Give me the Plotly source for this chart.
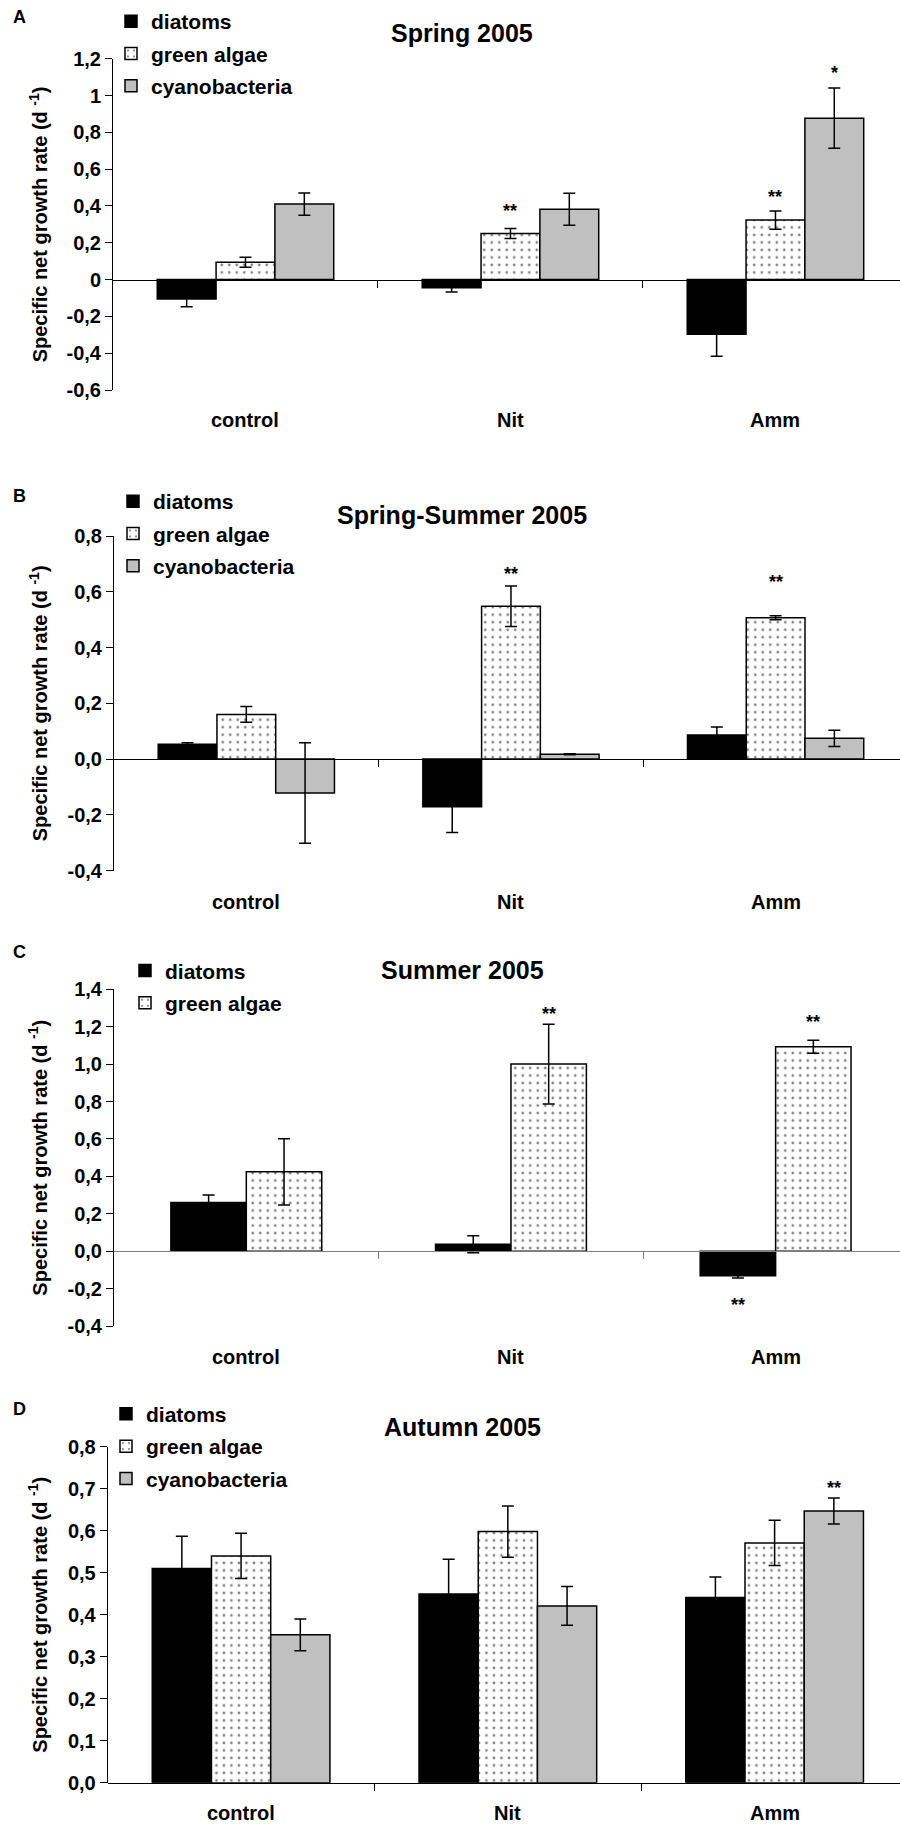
import plotly.graph_objects as go

W, H = 900, 1824
FONT = "Liberation Sans, Arial, sans-serif"

categories = ["control", "Nit", "Amm"]

# ---- Panel A: Spring 2005 ----
a_diatoms = [-0.105, -0.045, -0.297]
a_diatoms_err = [0.043, 0.023, 0.12]
a_green = [0.094, 0.25, 0.323]
a_green_err = [0.027, 0.027, 0.05]
a_cyano = [0.41, 0.382, 0.877]
a_cyano_err = [0.06, 0.087, 0.164]
a_ticks = [-0.6, -0.4, -0.2, 0, 0.2, 0.4, 0.6, 0.8, 1.0, 1.2]
a_ticktext = ["-0,6", "-0,4", "-0,2", "0", "0,2", "0,4", "0,6", "0,8", "1", "1,2"]
a_stars = [("green algae", "Nit", "**", 0.40), ("green algae", "Amm", "**", 0.476),
           ("cyanobacteria", "Amm", "*", 1.151)]

# ---- Panel B: Spring-Summer 2005 ----
b_diatoms = [0.053, -0.171, 0.086]
b_diatoms_err = [0.005, 0.093, 0.029]
b_green = [0.16, 0.548, 0.507]
b_green_err = [0.028, 0.073, 0.007]
b_cyano = [-0.122, 0.017, 0.074]
b_cyano_err = [0.18, 0.002, 0.029]
b_ticks = [-0.4, -0.2, 0, 0.2, 0.4, 0.6, 0.8]
b_ticktext = ["-0,4", "-0,2", "0,0", "0,2", "0,4", "0,6", "0,8"]
b_stars = [("green algae", "Nit", "**", 0.683), ("green algae", "Amm", "**", 0.654)]

# ---- Panel C: Summer 2005 ----
c_diatoms = [0.26, 0.037, -0.132]
c_diatoms_err = [0.04, 0.045, 0.011]
c_green = [0.424, 1.0, 1.093]
c_green_err = [0.177, 0.213, 0.035]
c_ticks = [-0.4, -0.2, 0, 0.2, 0.4, 0.6, 0.8, 1.0, 1.2, 1.4]
c_ticktext = ["-0,4", "-0,2", "0,0", "0,2", "0,4", "0,6", "0,8", "1,0", "1,2", "1,4"]
c_stars = [("green algae", "Nit", "**", 1.293), ("green algae", "Amm", "**", 1.25),
           ("diatoms", "Amm", "**", -0.262)]

# ---- Panel D: Autumn 2005 ----
d_diatoms = [0.51, 0.449, 0.441]
d_diatoms_err = [0.077, 0.083, 0.049]
d_green = [0.54, 0.598, 0.571]
d_green_err = [0.054, 0.061, 0.054]
d_cyano = [0.352, 0.421, 0.647]
d_cyano_err = [0.038, 0.046, 0.031]
d_ticks = [0, 0.1, 0.2, 0.3, 0.4, 0.5, 0.6, 0.7, 0.8]
d_ticktext = ["0,0", "0,1", "0,2", "0,3", "0,4", "0,5", "0,6", "0,7", "0,8"]
d_stars = [("cyanobacteria", "Amm", "**", 0.713)]

STYLE = {
    "diatoms": dict(color="black", line=dict(color="black", width=1.5)),
    "green algae": dict(color="white", line=dict(color="black", width=1.5),
                        pattern=dict(shape=".", fgcolor="black", bgcolor="white",
                                     size=7.5, solidity=0.1)),
    "cyanobacteria": dict(color="#C0C0C0", line=dict(color="black", width=1.5)),
}

panels = [
    dict(letter="A", title="Spring 2005",
         series=[("diatoms", a_diatoms, a_diatoms_err), ("green algae", a_green, a_green_err),
                 ("cyanobacteria", a_cyano, a_cyano_err)],
         yrange=[-0.6, 1.2], ticks=a_ticks, ticktext=a_ticktext, stars=a_stars,
         top=58.7, bottom=390, axis_x=113, title_y=33, letter_y=17,
         leg_x=153, leg_y=19, cat_y=420, barw=0.222, zc="black"),
    dict(letter="B", title="Spring-Summer 2005",
         series=[("diatoms", b_diatoms, b_diatoms_err), ("green algae", b_green, b_green_err),
                 ("cyanobacteria", b_cyano, b_cyano_err)],
         yrange=[-0.4, 0.8], ticks=b_ticks, ticktext=b_ticktext, stars=b_stars,
         top=536, bottom=870.5, axis_x=114, title_y=515, letter_y=496,
         leg_x=155, leg_y=499, cat_y=902, barw=0.222, zc="black"),
    dict(letter="C", title="Summer 2005",
         series=[("diatoms", c_diatoms, c_diatoms_err), ("green algae", c_green, c_green_err)],
         yrange=[-0.4, 1.4], ticks=c_ticks, ticktext=c_ticktext, stars=c_stars,
         top=989.3, bottom=1326, axis_x=114, title_y=970, letter_y=952,
         leg_x=167, leg_y=968.3, cat_y=1356.7, barw=0.285, zc="#808080"),
    dict(letter="D", title="Autumn 2005",
         series=[("diatoms", d_diatoms, d_diatoms_err), ("green algae", d_green, d_green_err),
                 ("cyanobacteria", d_cyano, d_cyano_err)],
         yrange=[0, 0.8], ticks=d_ticks, ticktext=d_ticktext, stars=d_stars,
         top=1446.7, bottom=1782.7, axis_x=107.7, title_y=1426.7, letter_y=1409,
         leg_x=148, leg_y=1411.7, cat_y=1813, barw=0.222, zc="black"),
]

fig = go.Figure()
layout = dict(width=W, height=H, margin=dict(l=0, r=0, t=0, b=0, autoexpand=False),
              paper_bgcolor="white", plot_bgcolor="white", barmode="overlay",
              font=dict(family=FONT, color="black"), annotations=[])
xpos = list(range(len(categories)))

def py(px):
    return 1 - px / H

for i, p in enumerate(panels, start=1):
    xa = "x" if i == 1 else f"x{i}"
    ya = "y" if i == 1 else f"y{i}"
    leg = "legend" if i == 1 else f"legend{i}"
    n = len(p["series"])
    w = p["barw"]
    offsets = {}
    for j, (name, vals, errs) in enumerate(p["series"]):
        off = -n * w / 2 + j * w
        offsets[name] = off + w / 2
        fig.add_trace(go.Bar(
            x=xpos, y=vals, name=name, width=w, offset=off,
            marker=STYLE[name],
            error_y=dict(type="data", array=errs, color="black", thickness=1.5, width=6),
            xaxis=xa, yaxis=ya, legend=leg, legendgroup=f"{i}-{name}",
            hoverinfo="skip"))
    y0, y1 = py(p["bottom"]), py(p["top"])
    lo, hi = p["yrange"]
    zero_pos = y0 + (0 - lo) / (hi - lo) * (y1 - y0)
    layout[f"xaxis{'' if i == 1 else i}"] = dict(
        domain=[p["axis_x"] / W, 1], range=[-0.5, 2.47], anchor="free", position=zero_pos,
        showline=True, linecolor=p["zc"], linewidth=1, ticks="outside", tickvals=[0.5, 1.5],
        ticklen=7, tickcolor=p["zc"], showticklabels=False, showgrid=False, zeroline=False,
        fixedrange=True)
    layout[f"yaxis{'' if i == 1 else i}"] = dict(
        domain=[y0, y1], range=p["yrange"], anchor=xa, showline=True, linecolor="black",
        linewidth=1, ticks="outside", ticklen=7, tickcolor="black", tickvals=p["ticks"],
        ticktext=p["ticktext"], tickfont=dict(size=20, family=FONT, weight="bold"),
        showgrid=False, zeroline=False, fixedrange=True)
    layout[leg] = dict(x=(p["leg_x"] - 42) / W, y=py(p["leg_y"] - 18), xanchor="left",
                       yanchor="top", bgcolor="rgba(0,0,0,0)", borderwidth=0,
                       font=dict(size=21, family=FONT, weight="bold"),
                       traceorder="grouped", tracegroupgap=2)
    anns = layout["annotations"]
    anns.append(dict(text=p["letter"], x=19 / W, y=py(p["letter_y"]), xref="paper", yref="paper",
                     showarrow=False, xanchor="center", yanchor="middle",
                     font=dict(size=18, family=FONT, weight="bold")))
    anns.append(dict(text=p["title"], x=462 / W, y=py(p["title_y"]), xref="paper", yref="paper",
                     showarrow=False, xanchor="center", yanchor="middle",
                     font=dict(size=25, family=FONT, weight="bold")))
    anns.append(dict(text="Specific net growth rate (d <sup>-1</sup>)", x=38 / W,
                     y=(y0 + y1) / 2, xref="paper", yref="paper", textangle=-90,
                     showarrow=False, xanchor="center", yanchor="middle",
                     font=dict(size=20, family=FONT, weight="bold")))
    for k, c in enumerate(categories):
        anns.append(dict(text=c, x=xpos[k], y=py(p["cat_y"]), xref=xa, yref="paper",
                         showarrow=False, xanchor="center", yanchor="middle",
                         font=dict(size=20, family=FONT, weight="bold")))
    for (sname, cat, label, yv) in p["stars"]:
        anns.append(dict(text=label, x=categories.index(cat) + offsets[sname], y=yv,
                         xref=xa, yref=ya, showarrow=False, xanchor="center",
                         yanchor="middle", yshift=-5,
                         font=dict(size=18, family=FONT, weight="bold")))

fig.update_layout(**layout)
fig.write_html("out.html")
